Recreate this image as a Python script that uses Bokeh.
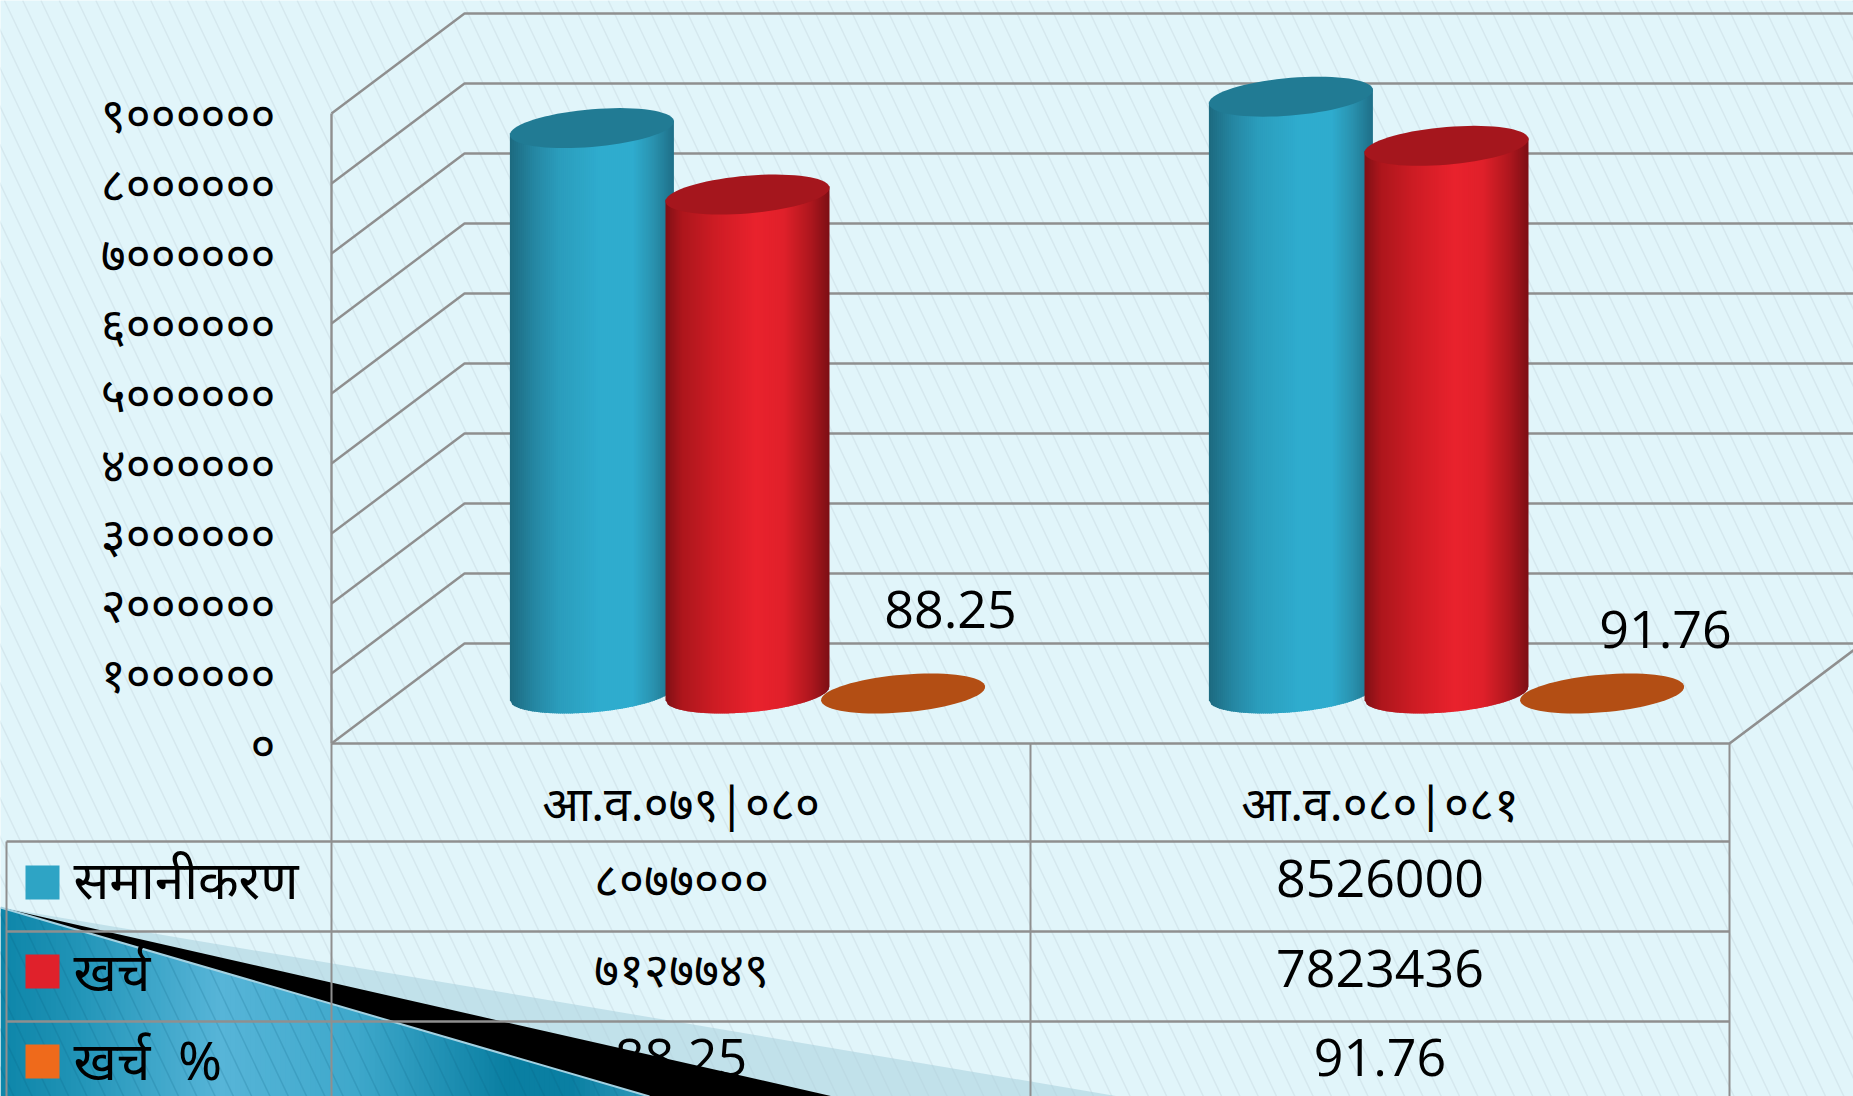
import math
from bokeh.plotting import figure
from bokeh.models import Range1d, LinearAxis, FixedTicker
from bokeh.core.properties import value
from bokeh.embed import file_html
from bokeh.resources import INLINE

categories = ["आ.व.०७९|०८०", "आ.व.०८०|०८१"]
series_names = ["समानीकरण", "खर्च", "खर्च\u00a0\u00a0%"]
budget = [8077000, 8526000]
spend = [7127749, 7823436]
percent = [88.25, 91.76]
table_rows = [["८०७७०००", "8526000"], ["७१२७७४९", "7823436"], ["88.25", "91.76"]]
tick_values = [0, 1000000, 2000000, 3000000, 4000000, 5000000, 6000000, 7000000, 8000000, 9000000]
tick_labels = ["०", "१००००००", "२००००००", "३००००००", "४००००००", "५००००००", "६००००००", "७००००००", "८००००००", "९००००००"]
percent_labels = ["88.25", "91.76"]

BG = "#e1f5fa"
GRID = "#8f8f8f"
FONT = "Open Sans"
DEV = "Noto Sans"

W, H = 1853, 1096
X0, CW = 331.0, 699.0   # page x of the front-left corner, width of a category
Y0, PPV = 743.0, 70e-6  # page y of value zero on the front wall, pixels per unit
DX, DY = 133.0, 100.0   # depth of the box

def X(px):
    return (px - X0) / CW
def V(py):
    return (Y0 - py) / PPV

p = figure(width=W, height=H, output_backend="svg", toolbar_location=None,
           x_range=Range1d(X(0), X(W)), y_range=Range1d(V(H), V(0)),
           x_axis_location=None, y_axis_location=None, min_border=0,
           background_fill_color=BG, border_fill_color=BG, outline_line_color=None)
p.grid.visible = False

def lerp_color(stops, u):
    for (a, ca), (b, cb) in zip(stops, stops[1:]):
        if u <= b:
            t = (u - a) / (b - a)
            ra = [int(ca[i:i + 2], 16) for i in (1, 3, 5)]
            rb = [int(cb[i:i + 2], 16) for i in (1, 3, 5)]
            return "#%02x%02x%02x" % tuple(round(x + (y - x) * t) for x, y in zip(ra, rb))
    return stops[-1][1]

# diagonal stripes of the page
xs, ys = [], []
xt = -600
while xt < 1900:
    xs.append([X(xt), X(xt + 1100 / 2.1)])
    ys.append([V(0), V(1100)])
    xt += 18.3
p.multi_line(xs, ys, line_color="#d5e8ee", line_width=1.5)

# corner decoration
P0 = (0, 907)
def on_edge(slope, x):
    return P0[1] + slope * x
p.patch([X(0), X(1117), X(0)], [V(907), V(on_edge(.169, 1117)), V(1096)], fill_color="#a8cfdc", fill_alpha=0.55, line_color=None)
p.patch([X(0), X(833), X(649), X(0)], [V(907), V(on_edge(.227, 833)), V(1096), V(907)], fill_color="#000000", line_color=None)
blue_stops = [(0, "#0d85a8"), (.11, "#1f93b6"), (.34, "#57b5d8"), (.55, "#3ea8cb"), (.78, "#0a7fa2"), (.88, "#0a7fa2"), (1, "#2f99ba")]
n = 130
for i in range(n):
    a, b = 649 * i / n, 649 * (i + 1) / n + 1
    c = lerp_color(blue_stops, (a + b) / 2 / 649)
    p.patch([X(a), X(b), X(b), X(a)], [V(on_edge(.2915, a)), V(on_edge(.2915, b)), V(1096), V(1096)],
            fill_color=c, line_color=None)
xs, ys = [], []
xt = -600
while xt < 800:
    x_hit = (907 / 2.1 + xt) / (1 - .2915 / 2.1)
    if 0 <= x_hit <= 649:
        y_hit = on_edge(.2915, x_hit)
        xs.append([X(x_hit), X(xt + 1096 / 2.1)])
        ys.append([V(y_hit), V(1096)])
    elif x_hit < 0:
        xs.append([X(xt + 907 / 2.1), X(xt + 1096 / 2.1)])
        ys.append([V(907), V(1096)])
    xt += 18.3
p.multi_line(xs, ys, line_color="#0a5f80", line_alpha=0.18, line_width=1.5)
p.line([X(0), X(649)], [V(907), V(1096)], line_color="#a4d2e2", line_width=2)

# walls and floor
xs, ys = [], []
for v in tick_values:
    py = Y0 - v * PPV
    xs.append([X(X0), X(X0 + DX), X(1900)])
    ys.append([V(py), V(py - DY), V(py - DY)])
p.multi_line(xs, ys, line_color=GRID, line_width=2.4)
p.line([X(X0), X(X0)], [V(Y0 - 9000000 * PPV), V(Y0)], line_color=GRID, line_width=2.4)
p.line([X(X0), 2, 2 + DX / CW], [0, 0, DY / PPV], line_color=GRID, line_width=2.6)

# table grid
for py in (841, 931, 1021):
    p.line([X(6), 2], [V(py), V(py)], line_color=GRID, line_width=2.6)
for cx in (0, 1, 2):
    p.line([cx, cx], [0, V(1096)], line_color=GRID, line_width=2)
p.line([X(6), X(6)], [V(841), V(1096)], line_color=GRID, line_width=2)

# cylinders
RX, RY = 82.0, 20.0
PHI = math.asin(6.7 / 20)
STEP = 155.6
BASE = DY / 2
blue_body = [(0, "#1d6a80"), (.15, "#2587a3"), (.3, "#2b9dbc"), (.55, "#2facce"), (.75, "#2facce"), (.87, "#2a93b0"), (1, "#1e6f88")]
red_body = [(0, "#7f1015"), (.1, "#ad161c"), (.3, "#cd1c24"), (.55, "#e9222d"), (.72, "#e0202a"), (.88, "#b0171e"), (1, "#7c0f14")]

def ellipse_pts(cx, cy, m=72):
    out_x, out_y = [], []
    for k in range(m):
        t = 2 * math.pi * k / m
        out_x.append(cx + RX * math.cos(t))
        out_y.append(cy - RY * math.sin(t + PHI))
    return out_x, out_y

def low_arc(dx):
    t = -math.acos(max(-1, min(1, dx / RX)))
    return -RY * math.sin(t + PHI)

def cylinder(i, j, val, stops, top):
    cx = X0 + CW * (i + .5) + DX / 2 + (j - 1) * STEP
    base_y = Y0 - BASE
    top_y = base_y - val * PPV
    m = 82
    for k in range(m):
        a = -RX + 2 * RX * k / m
        b = -RX + 2 * RX * (k + 1) / m + (1.2 if k < m - 1 else 0)
        b_arc = min(b, RX)
        c = lerp_color(stops, (k + .5) / m)
        p.patch([X(cx + a), X(cx + b_arc), X(cx + b_arc), X(cx + a)],
                [V(base_y + low_arc(a)), V(base_y + low_arc(b_arc)), V(top_y + low_arc(b_arc) - 2), V(top_y + low_arc(a) - 2)],
                fill_color=c, line_color=None)
    ex, ey = ellipse_pts(cx, top_y)
    p.patch([X(q) for q in ex], [V(q) for q in ey], fill_color=top, line_color=None)

for i in range(2):
    cylinder(i, 0, budget[i], blue_body, "#217b94")
    cylinder(i, 1, spend[i], red_body, "#a5161d")
    cx = X0 + CW * (i + .5) + DX / 2 + STEP
    ex, ey = ellipse_pts(cx, Y0 - BASE - percent[i] * PPV)
    p.patch([X(q) for q in ex], [V(q) for q in ey], fill_color="#b34e14", line_color=None)

# data labels of the flat series
p.text([X(950), X(1665)], [V(609), V(629)], text=percent_labels, text_font=value(FONT), text_font_size="52px",
       text_align="center", text_baseline="middle", text_color="#000000")

# y axis
axis = LinearAxis(fixed_location=X(286), ticker=FixedTicker(ticks=tick_values),
                  major_label_overrides=dict(zip(tick_values, tick_labels)),
                  axis_line_color=None, major_tick_line_color=None, minor_tick_line_color=None,
                  major_label_text_font=DEV, major_label_text_font_size="48px",
                  major_label_text_color="#000000", major_label_standoff=5)
p.add_layout(axis, "left")

# table
p.text([.5, 1.5], [V(802)] * 2, text=categories, text_font=value(DEV), text_font_size="48px",
       text_align="center", text_baseline="middle", text_color="#000000")
rows = zip(table_rows, (878, 968, 1057), (882, 971, 1061), (878, 970, 1059),
           ("#2ea4c5", "#e0212b", "#ef6a1b"), series_names)
for row, py, sq, ly, colr, name in rows:
    for k, cell in enumerate(row):
        size = "52px" if cell.isascii() else "48px"
        p.text([k + .5], [V(py)], text=[cell], text_font=value(FONT), text_font_size=size,
               text_align="center", text_baseline="middle", text_color="#000000")
    p.quad(left=[X(25)], right=[X(59)], top=[V(sq - 17)], bottom=[V(sq + 17)], fill_color=colr, line_color=None)
    p.text([X(73)], [V(ly)], text=[name], text_font=value(DEV), text_font_size="53px",
           text_align="left", text_baseline="middle", text_color="#000000")

open("out.html", "w").write(file_html(p, INLINE))
